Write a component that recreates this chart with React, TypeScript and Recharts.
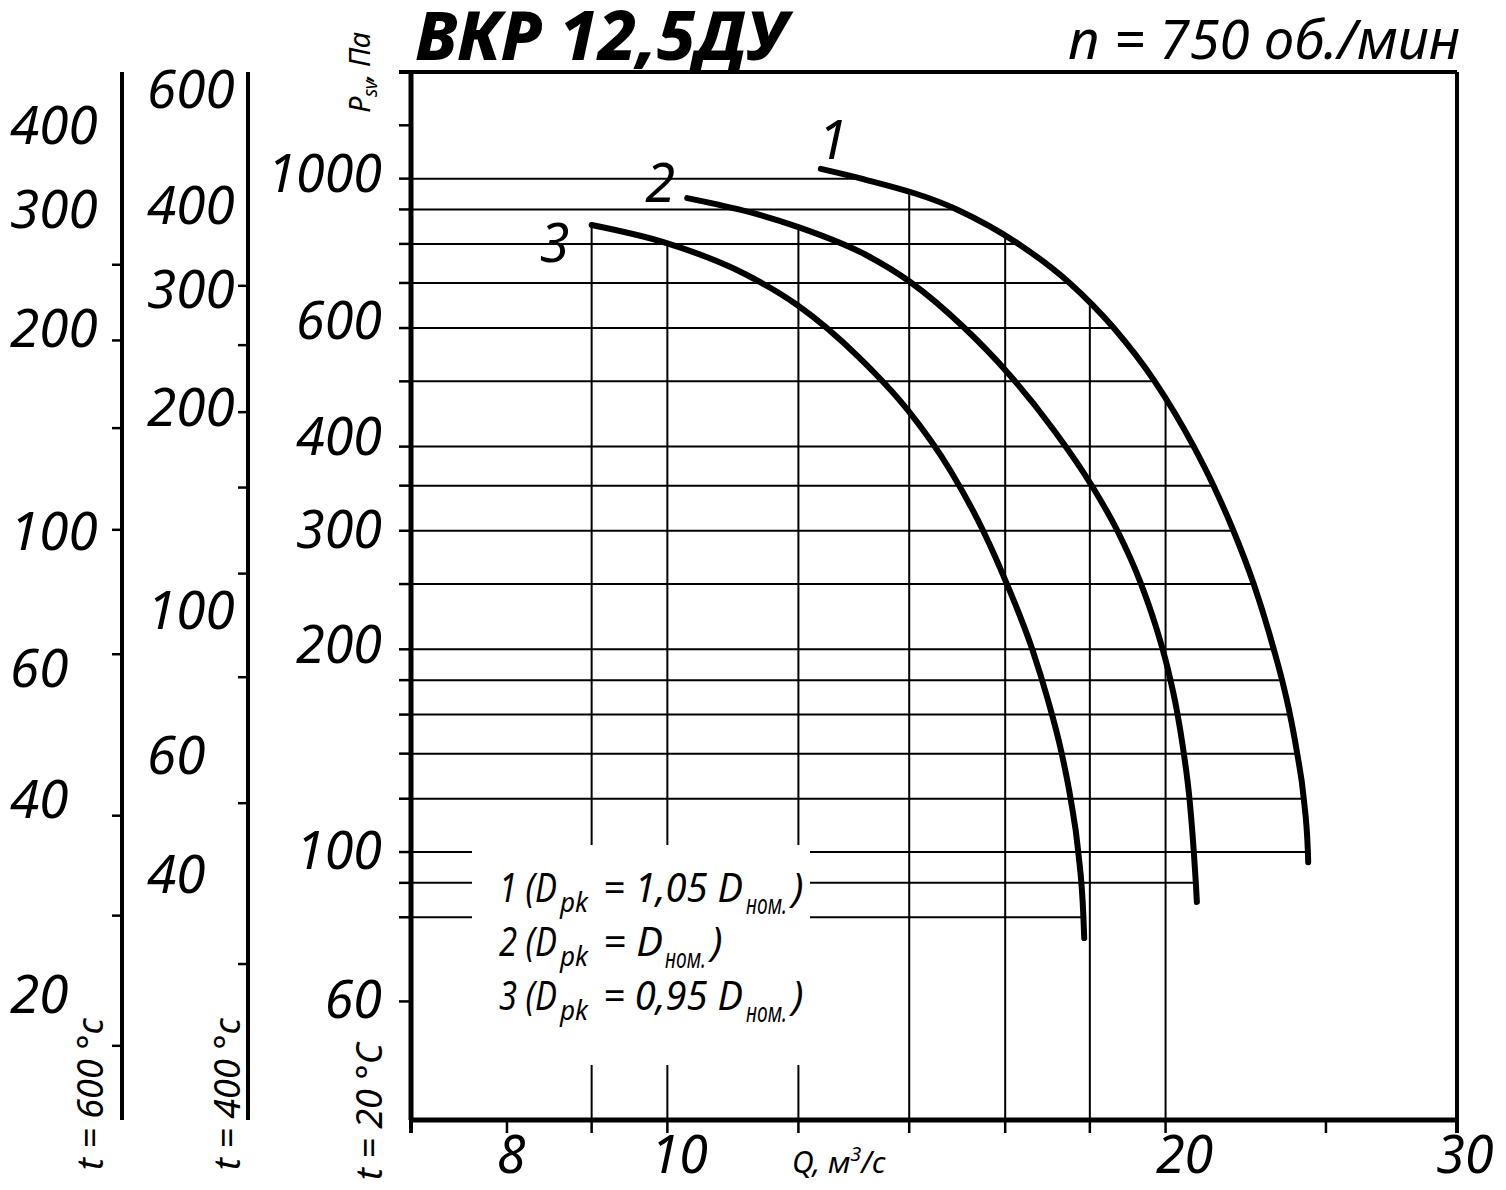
import React from 'react';
import { ComposedChart, Line, XAxis, YAxis, ReferenceLine } from 'recharts';

const FONT = '"Noto Sans", "Open Sans", sans-serif';

// curve points: Q, м³/с and Psv, Па (curve 1 read where it meets the grid lines)
const curve1Q = [12.38, 13.1, 14.96, 16.3, 17.5, 18.61, 19.7, 20.8, 21.38, 21.98, 22.61, 23.25, 23.52, 23.78, 24.02, 24.24, 24.38, 24.39];
const curve1P = [1034, 1000, 900, 800, 700, 600, 500, 400, 350, 300, 250, 200, 180, 160, 140, 120, 100, 96.6];
const curve2Q = [10.28, 11.23, 12.0, 13.17, 14.02, 15.12, 16.06, 17.1, 18.04, 18.72, 19.31, 19.72, 20.05, 20.33, 20.5, 20.68, 20.8, 20.86, 20.89];
const curve2P = [935.7, 890.8, 847.4, 771.5, 702.4, 600, 514.5, 424.9, 350.7, 298.7, 251.7, 217.3, 188.3, 160.9, 141.8, 119.5, 100.3, 90, 84.3];
const curve3Q = [9.0, 9.99, 11.14, 11.98, 13.05, 13.97, 14.83, 15.53, 16.02, 16.62, 16.98, 17.29, 17.53, 17.71, 17.84, 17.86];
const curve3P = [853.4, 802.2, 721.8, 649.2, 543.3, 453.4, 368.0, 298.7, 251.7, 199.5, 168.2, 141.8, 119.5, 100.3, 80, 74.5];

// grid: horizontal lines run from the axis to the outer curve, vertical ones from the bottom up to a curve
const gridP = [1000, 900, 800, 700, 600, 500, 400, 350, 300, 250, 200, 180, 160, 140, 120, 100, 90, 80];
const gridPEnd = [13.1, 14.96, 16.3, 17.5, 18.61, 19.7, 20.8, 21.38, 21.98, 22.61, 23.25, 23.52, 23.78, 24.02, 24.24, 24.38, 20.86, 17.84];
const gridQ = [9, 10, 12, 14, 16, 18, 20];
const gridQTop = [853.4, 801, 847.4, 952, 823, 654, 472];

const Q_MIN = 7;
const Q_MAX = 30;
const P_MIN = 40;
const P_MAX = 1440;

const qTicks = [7, 8, 9, 10, 12, 14, 16, 18, 20, 25, 30];
const qLabels = [8, 10, 20, 30];
const pTicks = [1440, 1200, 1000, 900, 800, 700, 600, 500, 400, 350, 300, 250, 200, 180, 160, 140, 120, 100, 90, 80, 60];
const pLabels = [1000, 600, 400, 300, 200, 100, 60];

// temperature scales (pressure factor vs 20 °C)
const R400 = 0.44;
const R600 = 0.3356;
const t400Labels = [600, 400, 300, 200, 100, 60, 40];
const t400Marks = [305, 249, 198, 153, 114, 80, 52, 30];
const t600Labels = [400, 300, 200, 100, 60, 40, 20];
const t600Marks = [250, 193, 143, 101, 66, 38, 27, 17.3];

const rows = (qs: number[], ps: number[]) => qs.map((q, i) => ({ q, p: ps[i] }));

const italic = { fontFamily: FONT, fontStyle: 'italic' as const, fill: '#000' };
const qLabelShift: Record<number, number> = { 8: 4, 10: 12, 20: 19, 30: 8 };
// small vertical nudges of hand-placed labels in the original drawing
const mainNudge: Record<number, number> = { 1000: -4, 600: -6, 400: -9, 200: -3 };
const t400Nudge: Record<number, number> = { 600: 3, 60: -4, 40: -4 };
const t600Nudge: Record<number, number> = { 60: -12, 20: -7 };

const MainTick = (props: any) => {
  const { x, y, payload } = props;
  const v = payload.value;
  return (
    <g>
      <line x1={x - 12} y1={y} x2={x} y2={y} stroke="#000" strokeWidth={v === P_MAX ? 4 : 2.5} />
      {pLabels.includes(v) && (
        <text x={x - 29} y={y + 17 + (mainNudge[v] ?? 0)} textAnchor="end" fontSize={52} {...italic}>
          {v}
        </text>
      )}
    </g>
  );
};

const sideTick = (labels: number[], marks: number[], labelOffset: number, nudge: Record<number, number>) => (props: any) => {
  const { x, y, payload } = props;
  const v = payload.value;
  return (
    <g>
      {marks.includes(v) && <line x1={x - 10} y1={y} x2={x} y2={y} stroke="#000" strokeWidth={2.5} />}
      {labels.includes(v) && (
        <text x={x - labelOffset} y={y + 17 + (nudge[v] ?? 0)} textAnchor="start" fontSize={53} {...italic}>
          {v}
        </text>
      )}
    </g>
  );
};

const QTick = (props: any) => {
  const { x, y, payload } = props;
  const v = payload.value;
  return (
    <g>
      <line x1={x} y1={y} x2={x} y2={y + 13} stroke="#000" strokeWidth={v === Q_MIN || v === Q_MAX ? 4 : 2.5} />
      {qLabels.includes(v) && (
        <text x={x + (qLabelShift[v] ?? 8)} y={y + 53} textAnchor="middle" fontSize={52} {...italic}>
          {v}
        </text>
      )}
    </g>
  );
};

const curveLabel = (text: string, dx: number, dy: number) => (props: any) =>
  props.index === 0 ? (
    <text x={props.x + dx} y={props.y + dy} textAnchor="middle" fontSize={54} {...italic}>
      {text}
    </text>
  ) : (
    <g />
  );

// a piece of text squeezed to a given width
const T = ({ x, y, w, size, children }: { x: number; y: number; w?: number; size: number; children: React.ReactNode }) => (
  <text x={x} y={y} fontSize={size} textLength={w} lengthAdjust={w ? 'spacingAndGlyphs' : undefined} {...italic}>
    {children}
  </text>
);

const LegendRow = ({ y, n, k }: { y: number; n: string; k: string }) => {
  const eqW = k ? 140 : 60;
  const subX = k ? 746 : 665;
  return (
    <g>
      <T x={499} y={y} w={58} size={40}>{`${n} (D`}</T>
      <T x={560} y={y + 10} w={28} size={27}>pk</T>
      <T x={603} y={y} w={eqW} size={40}>{k ? `= ${k} D` : '= D'}</T>
      <T x={subX} y={y + 12} w={41} size={27}>ном.</T>
      <T x={subX + 46} y={y} size={40}>)</T>
    </g>
  );
};

const curveProps = {
  dataKey: 'p',
  yAxisId: 'main',
  type: 'monotone' as const,
  dot: false,
  stroke: '#000',
  strokeWidth: 6,
  strokeLinecap: 'round' as const,
  isAnimationActive: false,
};

export default function App() {
  const axisLine = { stroke: '#000', strokeWidth: 5 };
  const sideLine = { stroke: '#000', strokeWidth: 4 };
  return (
    <div style={{ position: 'absolute', left: 0, top: 0, width: 1506, height: 1190, background: '#fff' }}>
      <ComposedChart width={1506} height={1190} margin={{ top: 72, right: 49, bottom: 0, left: 12 }}>
        <XAxis
          dataKey="q"
          type="number"
          scale="log"
          domain={[Q_MIN, Q_MAX]}
          ticks={qTicks}
          interval={0}
          allowDataOverflow
          height={70}
          tickSize={0}
          tickMargin={0}
          tickLine={false}
          axisLine={axisLine}
          tick={QTick}
        />
        <YAxis
          yAxisId="main"
          type="number"
          scale="log"
          domain={[P_MIN, P_MAX]}
          ticks={pTicks}
          interval={0}
          allowDataOverflow
          width={163}
          tickSize={0}
          tickMargin={0}
          tickLine={false}
          axisLine={axisLine}
          tick={MainTick}
        />
        <YAxis
          yAxisId="t400"
          type="number"
          scale="log"
          domain={[P_MIN * R400, P_MAX * R400]}
          ticks={[...t400Labels, ...t400Marks]}
          interval={0}
          allowDataOverflow
          width={126}
          tickSize={0}
          tickMargin={0}
          tickLine={false}
          axisLine={sideLine}
          tick={sideTick(t400Labels, t400Marks, 101, t400Nudge)}
        />
        <YAxis
          yAxisId="t600"
          type="number"
          scale="log"
          domain={[P_MIN * R600, P_MAX * R600]}
          ticks={[...t600Labels, ...t600Marks]}
          interval={0}
          allowDataOverflow
          width={110}
          tickSize={0}
          tickMargin={0}
          tickLine={false}
          axisLine={sideLine}
          tick={sideTick(t600Labels, t600Marks, 112, t600Nudge)}
        />

        {gridP.map((p, i) => (
          <ReferenceLine
            key={`h${p}`}
            yAxisId="main"
            segment={[{ x: Q_MIN, y: p }, { x: gridPEnd[i], y: p }]}
            stroke="#000"
            strokeWidth={2}
            ifOverflow="visible"
          />
        ))}
        {gridQ.map((q, i) => (
          <ReferenceLine
            key={`v${q}`}
            yAxisId="main"
            segment={[{ x: q, y: P_MIN }, { x: q, y: gridQTop[i] }]}
            stroke="#000"
            strokeWidth={2}
            ifOverflow="visible"
          />
        ))}
        <ReferenceLine yAxisId="main" x={Q_MAX} stroke="#000" strokeWidth={4} />
        <ReferenceLine yAxisId="main" y={P_MAX} stroke="#000" strokeWidth={4} />

        <Line data={rows(curve1Q, curve1P)} {...curveProps} label={curveLabel('1', 12, -10)} />
        <Line data={rows(curve2Q, curve2P)} {...curveProps} label={curveLabel('2', -27, 4)} />
        <Line data={rows(curve3Q, curve3P)} {...curveProps} label={curveLabel('3', -37, 37)} />
      </ComposedChart>

      <svg width={1506} height={1190} style={{ position: 'absolute', left: 0, top: 0, pointerEvents: 'none' }}>
        <text x={415} y={60} fontSize={67} fontWeight={800} textLength={372} lengthAdjust="spacingAndGlyphs" {...italic}>
          ВКР 12,5ДУ
        </text>
        <text x={1068} y={59} fontSize={54} textLength={392} lengthAdjust="spacingAndGlyphs" {...italic}>
          n = 750 об./мин
        </text>
        <text transform="translate(370,113) rotate(-90)" fontSize={29} letterSpacing={-0.5} {...italic}>
          P<tspan fontSize={19} dy={7}>sv</tspan>
          <tspan dy={-7}>, Па</tspan>
        </text>
        <text x={792} y={1173} fontSize={30} {...italic}>
          Q, м<tspan fontSize={20} dy={-12}>3</tspan>
          <tspan dy={12}>/с</tspan>
        </text>
        <text transform="translate(103,1170) rotate(-90)" fontSize={36} {...italic}>
          t = 600 °c
        </text>
        <text transform="translate(240,1170) rotate(-90)" fontSize={36} {...italic}>
          t = 400 °c
        </text>
        <text transform="translate(382,1180) rotate(-90)" fontSize={36} {...italic}>
          t = 20 °C
        </text>

        <rect x={472} y={845} width={338} height={220} fill="#fff" />
        <LegendRow y={902} n="1" k="1,05" />
        <LegendRow y={956} n="2" k="" />
        <LegendRow y={1010} n="3" k="0,95" />
      </svg>
    </div>
  );
}
